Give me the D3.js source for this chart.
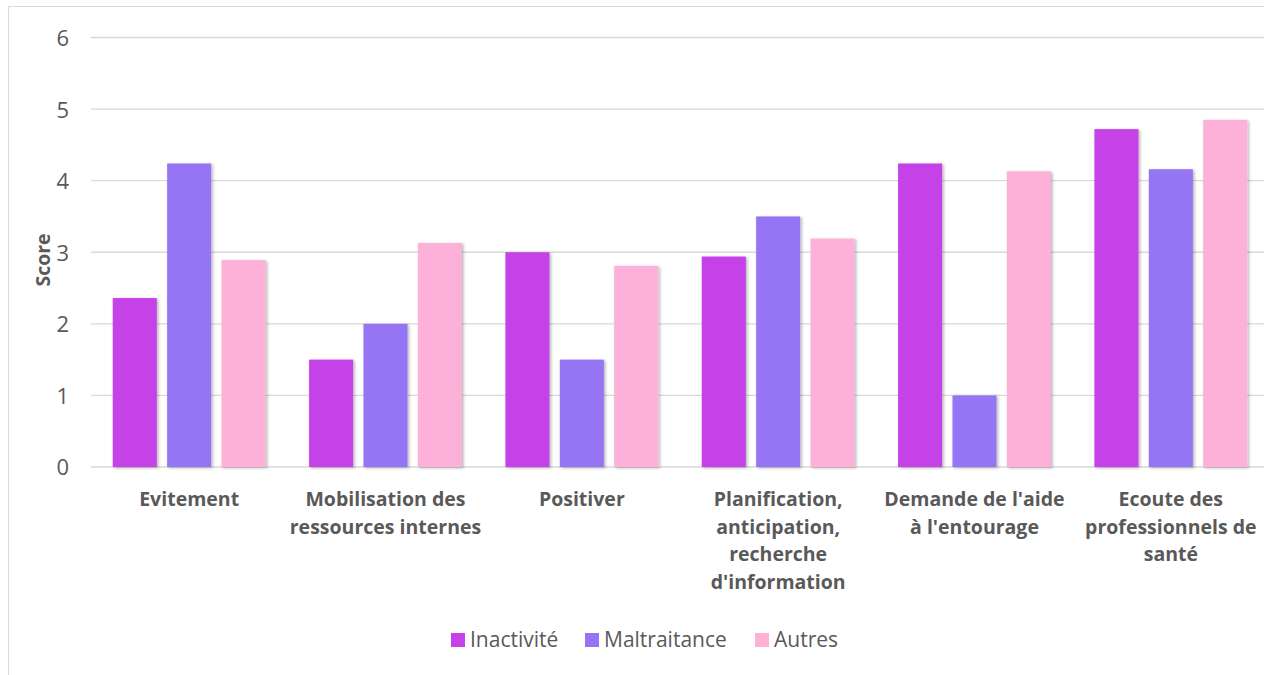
<!DOCTYPE html>
<html>
<head>
<meta charset="utf-8">
<script src="https://cdn.jsdelivr.net/npm/d3@7"></script>
<style>
  html, body { margin: 0; padding: 0; background: #fff; }
  svg { display: block; font-family: "Open Sans", Lato, sans-serif; }
</style>
</head>
<body>
<svg id="chart" width="1264" height="675"></svg>
<script>
const categories = [
  "Evitement",
  "Mobilisation des\nressources internes",
  "Positiver",
  "Planification,\nanticipation,\nrecherche\nd'information",
  "Demande de l'aide\nà l'entourage",
  "Ecoute des\nprofessionnels de\nsanté"
];
const seriesNames = ["Inactivité", "Maltraitance", "Autres"];
const inactivite   = [2.36, 1.5, 3.0, 2.94, 4.24, 4.72];
const maltraitance = [4.24, 2.0, 1.5, 3.50, 1.0, 4.16];
const autres       = [2.89, 3.13, 2.81, 3.19, 4.13, 4.85];
const yTicks = [0, 1, 2, 3, 4, 5, 6];
const yTitle = "Score";

const seriesValues = [inactivite, maltraitance, autres];
const colors = ["#C542E8", "#9575F3", "#FDB1D8"];

const svg = d3.select("#chart");

// frame
svg.append("rect")
  .attr("x", 8.5).attr("y", 6.5)
  .attr("width", 1300).attr("height", 700)
  .attr("fill", "#fff").attr("stroke", "#d9d9d9").attr("stroke-width", 1);

const defs = svg.append("defs");
const f = defs.append("filter").attr("id", "shadow")
  .attr("x", "-20%").attr("y", "-5%").attr("width", "140%").attr("height", "110%");
f.append("feDropShadow").attr("dx", 1.5).attr("dy", 1).attr("stdDeviation", 1.5)
  .attr("flood-color", "#000").attr("flood-opacity", 0.3);

const x0 = d3.scaleBand().domain(d3.range(categories.length)).range([91, 1269]).padding(0);
const x1 = d3.scaleBand().domain(d3.range(seriesNames.length)).range([0, x0.bandwidth()])
  .paddingInner(0.19).paddingOuter(0.40);
const y = d3.scaleLinear().domain([0, 6]).range([467, 37.5]);

// gridlines
svg.append("g").selectAll("line").data(yTicks).join("line")
  .attr("x1", 91).attr("x2", 1269)
  .attr("y1", d => y(d)).attr("y2", d => y(d))
  .attr("stroke", "#d9d9d9").attr("stroke-width", d => d === 0 ? 1.6 : 1.3);

// y axis labels
const yAxis = d3.axisLeft(y).tickValues(yTicks).tickSize(0).tickPadding(0).tickFormat(d3.format("d"));
const ya = svg.append("g").attr("transform", "translate(69,0)").call(yAxis);
ya.select(".domain").remove();
ya.selectAll("text")
  .attr("font-family", "'Open Sans', Lato, sans-serif")
  .attr("font-size", 22).attr("fill", "#595959").attr("dy", "0.36em");

// bars
const groups = svg.append("g").selectAll("g").data(categories.map((c, i) => i)).join("g")
  .attr("transform", i => `translate(${x0(i)},0)`);
groups.selectAll("rect")
  .data(i => seriesValues.map((vals, s) => ({ s, v: vals[i] })))
  .join("rect")
  .attr("x", d => x1(d.s))
  .attr("width", x1.bandwidth())
  .attr("y", d => y(d.v))
  .attr("height", d => y(0) - y(d.v))
  .attr("fill", d => colors[d.s])
  .attr("filter", "url(#shadow)");

// category labels
const lab = svg.append("g");
categories.forEach((c, i) => {
  const t = lab.append("text")
    .attr("x", x0(i) + x0.bandwidth() / 2)
    .attr("y", 506)
    .attr("text-anchor", "middle")
    .attr("font-size", 19.5).attr("font-weight", "bold").attr("fill", "#595959");
  c.split("\n").forEach((line, k) => {
    t.append("tspan").attr("x", x0(i) + x0.bandwidth() / 2)
      .attr("y", 506 + k * 27.5).text(line);
  });
});

// y title
svg.append("text")
  .attr("transform", "translate(50,260) rotate(-90)")
  .attr("text-anchor", "middle")
  .attr("font-size", 19.5).attr("font-weight", "bold").attr("fill", "#595959")
  .text(yTitle);

// legend
const legendX = [451, 585, 755];
const lg = svg.append("g");
seriesNames.forEach((n, i) => {
  lg.append("rect").attr("x", legendX[i]).attr("y", 633).attr("width", 14).attr("height", 14)
    .attr("fill", colors[i]);
  lg.append("text").attr("x", legendX[i] + 19).attr("y", 647)
    .attr("font-size", 21).attr("fill", "#595959").text(n);
});
</script>
</body>
</html>
